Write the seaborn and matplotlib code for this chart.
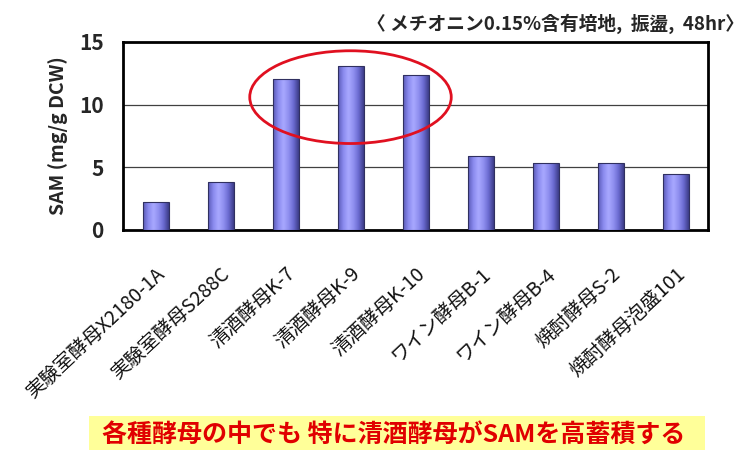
import numpy as np
import pandas as pd
import matplotlib
matplotlib.use("Agg")
import matplotlib.pyplot as plt
import seaborn as sns
from matplotlib.patches import Ellipse, Rectangle
from matplotlib.colors import LinearSegmentedColormap

# ---- data ----
strains = ["実験室酵母X2180-1A", "実験室酵母S288C", "清酒酵母K-7", "清酒酵母K-9",
           "清酒酵母K-10", "ワイン酵母B-1", "ワイン酵母B-4", "焼酎酵母S-2", "焼酎酵母泡盛101"]
sam = [2.26, 3.86, 12.05, 13.1, 12.37, 5.9, 5.37, 5.37, 4.44]
yticks = [0, 5, 10, 15]
title_text = "〈 メチオニン0.15%含有培地,  振盪,  48hr〉"
ylabel_text = "SAM (mg/g DCW)"
caption = "各種酵母の中でも 特に清酒酵母がSAMを高蓄積する"

sns.set_style("white")
plt.rcParams['font.family'] = ['Noto Sans CJK JP', 'DejaVu Sans']

df = pd.DataFrame({"strain": strains, "sam": sam})

fig = plt.figure(figsize=(7.53, 4.5), dpi=100)
ax = fig.add_axes([123/753, 1 - 230/450, (708-123)/753, (230-42)/450])

sns.barplot(data=df, x="strain", y="sam", color="#9999ff", width=0.4,
            edgecolor="#303060", linewidth=0.8, ax=ax, zorder=3)

ax.set_ylim(0, 15)
ax.set_xlim(-0.5, len(strains) - 0.5)

# gradient fill for bars
cmap = LinearSegmentedColormap.from_list(
    "bar", ["#5a5ab8", "#8a8aee", "#a8a8ff", "#9090f0", "#6a6ad0", "#3c3c88"])
grad = np.linspace(0, 1, 64).reshape(1, -1)
for p in ax.patches:
    x0, y0 = p.get_x(), p.get_y()
    w, h = p.get_width(), p.get_height()
    im = ax.imshow(grad, cmap=cmap, extent=[x0, x0 + w, y0, y0 + h],
                   aspect="auto", zorder=3.5, interpolation="bicubic")
    im.set_clip_path(p)
    p.set_facecolor("none")
    p.set_zorder(4)
ax.set_xlim(-0.5, len(strains) - 0.5)
ax.set_ylim(0, 15)

# grid
ax.set_yticks(yticks)
for yv in yticks[1:-1]:
    ax.axhline(yv, color="#404040", lw=0.9, zorder=1)

for s in ax.spines.values():
    s.set_visible(True)
    s.set_color("black")
    s.set_linewidth(2)

ax.tick_params(axis="y", length=0, pad=14, labelsize=15)
for t in ax.get_yticklabels():
    t.set_fontweight("bold")
ax.set_ylabel(ylabel_text, fontsize=14, fontweight="bold", labelpad=8)
ax.set_xlabel("")

ax.set_xticks(range(len(strains)))
ax.set_xticklabels(strains, rotation=43, ha="right", rotation_mode="anchor",
                   fontsize=14, color="#111111")
ax.tick_params(axis="x", length=0, pad=24)
ax.set_xticks(np.arange(0.5, len(strains) - 1, 1.0), minor=True)
ax.tick_params(axis="x", which="minor", direction="in", length=5, width=1, color="black")

# red ellipse around sake yeasts
ell = Ellipse((3.0, 10.6), width=3.1, height=7.4, fill=False, edgecolor="#e01020",
              lw=2, zorder=6, clip_on=False)
ax.add_patch(ell)

# title at top right
fig.text(744/753, 1 - 24/450, title_text, ha="right", va="center", fontsize=13.5,
         fontweight="bold")

# caption with yellow box
fig.patches.append(Rectangle((89/753, 0), (705-89)/753, (450-416)/450,
                             transform=fig.transFigure, facecolor="#ffff99",
                             edgecolor="none", zorder=0))
fig.text(394/753, 1 - 435/450, caption, ha="center", va="center", fontsize=18,
         fontweight="bold", color="#e00000")

fig.savefig("out.png", dpi=100)
